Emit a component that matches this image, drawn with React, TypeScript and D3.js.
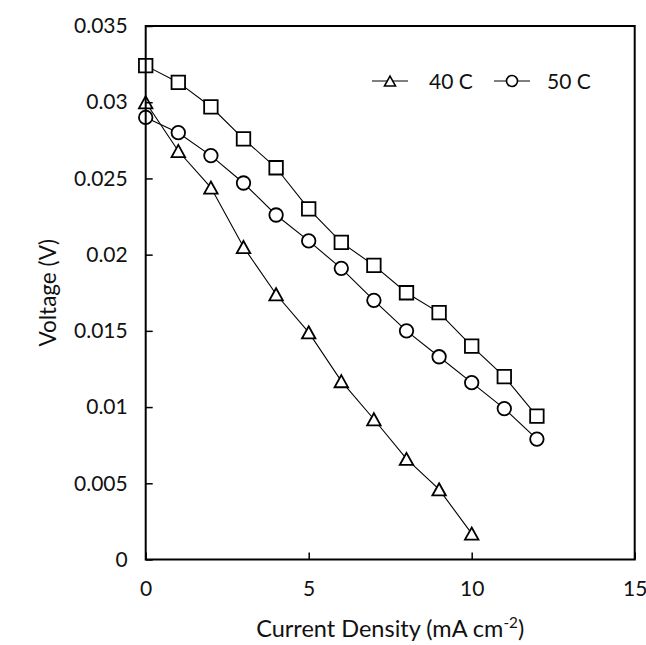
import React, { useEffect, useRef } from "react";
import * as d3 from "d3";

const currentDensity = [0, 1, 2, 3, 4, 5, 6, 7, 8, 9, 10, 11, 12];
const voltage40C = [0.0300, 0.0268, 0.0244, 0.0205, 0.0174, 0.0149, 0.0117, 0.0092, 0.0066, 0.0046, 0.0017];
const voltage50C = [0.0290, 0.0280, 0.0265, 0.0247, 0.0226, 0.0209, 0.0191, 0.0170, 0.0150, 0.0133, 0.0116, 0.0099, 0.0079];
const voltage60C = [0.0324, 0.0313, 0.0297, 0.0276, 0.0257, 0.0230, 0.0208, 0.0193, 0.0175, 0.0162, 0.0140, 0.0120, 0.0094];
const xTicks = [0, 5, 10, 15];
const yTicks = [0, 0.005, 0.01, 0.015, 0.02, 0.025, 0.03, 0.035];
const yTickLabels = ["0", "0.005", "0.01", "0.015", "0.02", "0.025", "0.03", "0.035"];
const legendNames = ["40 C", "50 C"];

const W = 646;
const H = 645;
const M = { left: 145.7, right: 634.7, top: 26, bottom: 559.5 };
const FONT = "Lato, 'Open Sans', sans-serif";
const FS = 21;

type Shape = "triangle" | "circle" | "square";

function markerPath(shape: Shape, size: number): string {
  const h = size / 2;
  if (shape === "square") return `M${-h},${-h}H${h}V${h}H${-h}Z`;
  if (shape === "triangle") {
    const hh = size * 0.45;
    return `M0,${-hh}L${h},${hh}L${-h},${hh}Z`;
  }
  return d3.arc()({ innerRadius: 0, outerRadius: h, startAngle: 0, endAngle: 2 * Math.PI }) as string;
}

export default function App() {
  const ref = useRef<SVGSVGElement>(null);

  useEffect(() => {
    const svg = d3.select(ref.current);
    svg.selectAll("*").remove();

    const x = d3.scaleLinear().domain([0, 15]).range([M.left, M.right]);
    const y = d3.scaleLinear().domain([0, 0.035]).range([M.bottom, M.top]);

    const series: { values: number[]; shape: Shape }[] = [
      { values: voltage40C, shape: "triangle" },
      { values: voltage50C, shape: "circle" },
      { values: voltage60C, shape: "square" },
    ];

    const line = d3
      .line<number>()
      .x((_, i) => x(currentDensity[i]))
      .y((d) => y(d));

    const g = svg.append("g");
    series.forEach((s) => {
      g.append("path")
        .attr("d", line(s.values) as string)
        .attr("fill", "none")
        .attr("stroke", "#000")
        .attr("stroke-width", 1.1);
    });
    series.forEach((s) => {
      g.selectAll(null)
        .data(s.values)
        .enter()
        .append("path")
        .attr("d", markerPath(s.shape, 13.5))
        .attr("transform", (d, i) => `translate(${x(currentDensity[i])},${y(d)})`)
        .attr("fill", "#fff")
        .attr("stroke", "#000")
        .attr("stroke-width", 1.8);
    });

    // frame
    svg
      .append("rect")
      .attr("x", M.left)
      .attr("y", M.top)
      .attr("width", M.right - M.left)
      .attr("height", M.bottom - M.top)
      .attr("fill", "none")
      .attr("stroke", "#000")
      .attr("stroke-width", 2);

    const xAxis = d3
      .axisBottom(x)
      .tickValues(xTicks)
      .tickFormat((d) => String(d))
      .tickSizeInner(-7)
      .tickSizeOuter(0)
      .tickPadding(22);
    const xa = svg.append("g").attr("transform", `translate(0,${M.bottom})`).call(xAxis);
    xa.select(".domain").remove();
    xa.selectAll("line").attr("stroke", "#000").attr("stroke-width", 1.5);
    xa.selectAll("text").attr("font-family", FONT).attr("font-size", FS).attr("fill", "#111");

    const yAxis = d3
      .axisLeft(y)
      .tickValues(yTicks)
      .tickFormat((_, i) => yTickLabels[i])
      .tickSizeInner(-7)
      .tickSizeOuter(0)
      .tickPadding(18);
    const ya = svg.append("g").attr("transform", `translate(${M.left},0)`).call(yAxis);
    ya.select(".domain").remove();
    ya.selectAll("line").attr("stroke", "#000").attr("stroke-width", 1.5);
    ya.selectAll("text").attr("font-family", FONT).attr("font-size", FS).attr("fill", "#111");

    // axis titles
    const XFS = 23.5;
    const xt = svg
      .append("text")
      .attr("x", (M.left + M.right) / 2)
      .attr("y", 637)
      .attr("text-anchor", "middle")
      .attr("font-family", FONT)
      .attr("font-size", XFS)
      .attr("fill", "#111");
    xt.append("tspan").text("Current Density (mA cm");
    xt.append("tspan").attr("font-size", XFS * 0.65).attr("dy", -9).text("-2");
    xt.append("tspan").attr("dy", 9).text(")");

    svg
      .append("text")
      .attr("transform", `translate(56,${(M.top + M.bottom) / 2}) rotate(-90)`)
      .attr("text-anchor", "middle")
      .attr("font-family", FONT)
      .attr("font-size", 22.5)
      .attr("fill", "#111")
      .text("Voltage (V)");

    // legend
    const legendItems: { name: string; shape: Shape; cx: number; tx: number }[] = [
      { name: legendNames[0], shape: "triangle", cx: 390, tx: 429 },
      { name: legendNames[1], shape: "circle", cx: 512, tx: 547 },
    ];
    const ly = 81;
    legendItems.forEach((it) => {
      svg
        .append("line")
        .attr("x1", it.cx - 18)
        .attr("x2", it.cx + 18)
        .attr("y1", ly)
        .attr("y2", ly)
        .attr("stroke", "#000")
        .attr("stroke-width", 1.1);
      svg
        .append("path")
        .attr("d", markerPath(it.shape, 11))
        .attr("transform", `translate(${it.cx},${ly})`)
        .attr("fill", "#fff")
        .attr("stroke", "#000")
        .attr("stroke-width", 1.6);
      svg
        .append("text")
        .attr("x", it.tx)
        .attr("y", ly + 7.5)
        .attr("font-family", FONT)
        .attr("font-size", FS)
        .attr("fill", "#111")
        .text(it.name);
    });
  }, []);

  return (
    <svg
      ref={ref}
      width={W}
      height={H}
      style={{ position: "absolute", left: 0, top: 0, background: "#fff" }}
    />
  );
}
